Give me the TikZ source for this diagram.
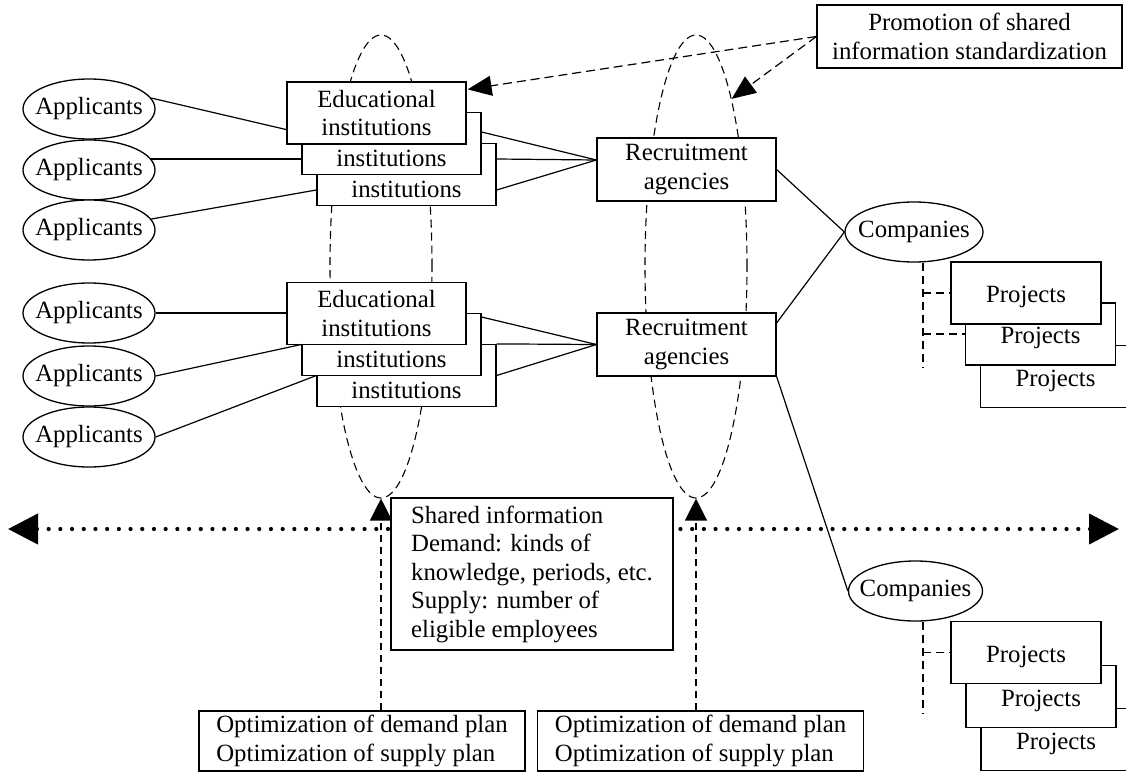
\documentclass[tikz,border=0pt]{standalone}
\usepackage{fontspec}
\setmainfont{Liberation Serif}
\usetikzlibrary{shapes.geometric,arrows.meta,calc}

\begin{document}
\begin{tikzpicture}[x=1pt,y=-1pt,
  every node/.style={font=\fontsize{24.8}{28.5}\selectfont},
  box/.style={draw, fill=white, line width=1.2pt, inner sep=0pt, align=center},
  edubox/.style={box, minimum width=179pt, minimum height=62pt},
  agbox/.style={box, minimum width=179pt, minimum height=63pt},
  projbox/.style={box, minimum width=150pt, minimum height=62pt, text height=22pt, text depth=2.5pt},
  planbox/.style={box, align=left, minimum width=326pt, minimum height=60pt},
  oval/.style={draw, fill=white, ellipse, line width=1.3pt, inner ysep=0pt, inner xsep=-12pt,
               minimum width=#1, minimum height=60pt},
  group/.style={draw, ellipse, line width=1.1pt, dash pattern=on 8pt off 5pt,
                minimum width=102pt, minimum height=463pt, inner sep=0pt},
  link/.style={line width=1.2pt},
  branch/.style={line width=1.2pt, dash pattern=on 8pt off 5pt},
  promo/.style={line width=1.2pt, dash pattern=on 9pt off 5pt,
                -{Triangle[length=24pt,width=20pt]}},
  upward/.style={line width=1.2pt, dash pattern=on 7pt off 5pt,
                 -{Triangle[length=22pt,width=22pt]}},
  dotline/.style={line width=4.2pt, line cap=round, dash pattern=on 0pt off 11.7pt,
                  {Triangle[length=30pt,width=30pt]}-{Triangle[length=30pt,width=30pt]}}
]
\useasboundingbox (0,0) rectangle (1126,773);

% dashed groupings of institutions and agencies
\node[group] (ov1) at (381,266.5) {};
\node[group] (ov2) at (696,266.5) {};

% shared information line across the chain
\coordinate (la) at (8,529);
\coordinate (ra) at (1119,529);
\draw[dotline] (la) -- (ra);

% applicants
\node[oval=132pt] (a1) at (89,109) {Applicants};
\node[oval=132pt] (a2) at (89,170) {Applicants};
\node[oval=132pt] (a3) at (89,230) {Applicants};
\node[oval=132pt] (a4) at (89,313) {Applicants};
\node[oval=132pt] (a5) at (89,376) {Applicants};
\node[oval=132pt] (a6) at (89,437) {Applicants};

% educational institutions, stacked back to front (only the lower line shows on the back ones)
\node[edubox] (e3) at (406.5,174.5) {\vphantom{Educational}\\institutions};
\node[edubox] (e2) at (391.5,143.5) {\vphantom{Educational}\\institutions};
\node[edubox] (e1) at (376.5,113) {Educational\\institutions};
\node[edubox] (e6) at (406.5,375.5) {\vphantom{Educational}\\institutions};
\node[edubox] (e5) at (391.5,344.5) {\vphantom{Educational}\\institutions};
\node[edubox] (e4) at (376.5,313.5) {Educational\\institutions};

% recruitment agencies
\node[agbox] (r1) at (686.5,169.5) {Recruitment\\agencies};
\node[agbox] (r2) at (686.5,344.5) {Recruitment\\agencies};

% companies
\node[oval=138pt] (co1) at (914,232) {Companies};
\node[oval=134pt] (co2) at (915.5,591) {Companies};

% projects, stacked back to front
\node[projbox] (p3) at (1055.5,376.5) {Projects};
\node[projbox] (p2) at (1040.5,334) {Projects};
\node[projbox] (p1) at (1026,293) {Projects};
\node[projbox] (p6) at (1056,739.5) {Projects};
\node[projbox] (p5) at (1041,696.5) {Projects};
\node[projbox] (p4) at (1026,652.5) {Projects};

% notes
\node[box, minimum width=305pt, minimum height=63pt] (pr) at (969.5,36.5)
  {Promotion of shared\\information standardization};
\node[box, align=left, minimum width=282pt, minimum height=152pt] (si) at (532,574)
  {Shared information\\Demand: kinds of\\knowledge, periods, etc.\\Supply: number of\\eligible employees};
\node[planbox] (o1) at (362,741) {Optimization of demand plan\\Optimization of supply plan};
\node[planbox] (o2) at (700.5,741) {Optimization of demand plan\\Optimization of supply plan};

% applicants to institutions
\draw[link] (a1.10) -- ($(e1.south west)+(0,-15)$);
\draw[link] (a2.10) -- (a2.10 -| e2.west);
\draw[link] (a3.10) -- ($(e3.west)+(0,15.5)$);
\draw[link] (a4.east) -- (a4.east -| e4.west);
\draw[link] (a5.east) -- (e5.west);
\draw[link] (a6.east) -- (e6.west);

% institutions to agencies
\coordinate (c1) at ($(r1.west)+(0,-9.5)$);
\draw[link] ($(e2.east)+(0,-11.5)$) -- (c1);
\draw[link] ($(e3.east)+(0,-15.5)$) -- (c1);
\draw[link] ($(e3.east)+(0,15.5)$) -- (c1);
\draw[link] ($(e5.east)+(0,-27.5)$) -- (r2.west);
\draw[link] (e6.north east) -- (r2.west);
\draw[link] (e6.east) -- (r2.west);

% agencies to companies
\draw[link] (r1.east) -- (co1.west);
\draw[link] ($(r2.east)+(0,-21.5)$) -- (co1.west);
\draw[link] (r2.south east) -- (co2.west);

% companies to projects
\coordinate (d1) at (923,368);
\coordinate (d2) at (923,713);
\draw[branch] (d1 |- co1.south) -- (d1);
\draw[branch] (d1 |- p1.west) -- (p1.west);
\draw[branch] (d1 |- p2.west) -- (p2.west);
\draw[branch] (d2 |- co2.south) -- (d2);
\draw[branch] (d2 |- p4.west) -- (p4.west);

% standardization arrows
\draw[promo] (pr.west) -- ($(e1.north east)+(1,8)$);
\draw[promo] (pr.west) -- (ov2.78.6);

% optimization arrows
\draw[upward] (ov1.south |- o1.north) -- (ov1.south);
\draw[upward] (ov2.south |- o2.north) -- (ov2.south);

\end{tikzpicture}
\end{document}
